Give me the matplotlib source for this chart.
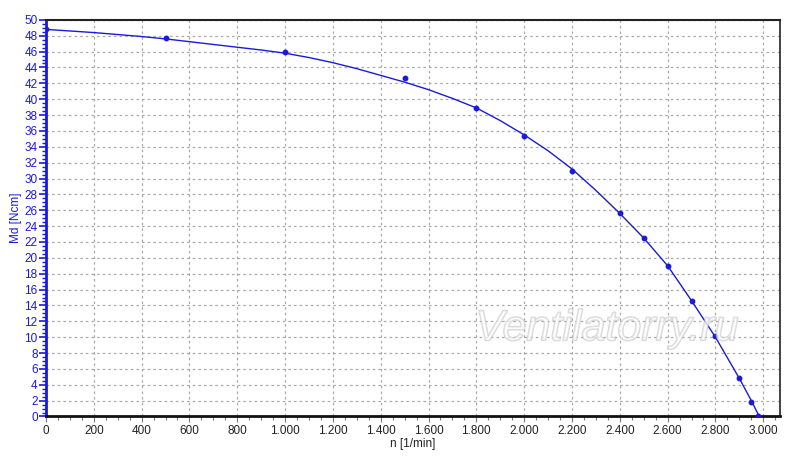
import matplotlib
matplotlib.use("Agg")
import matplotlib.pyplot as plt
import matplotlib.patheffects as pe
from matplotlib.ticker import MultipleLocator, FuncFormatter

plt.rcParams['font.family'] = ['Liberation Sans', 'DejaVu Sans']

# measured points
n_pts = [0, 500, 1000, 1500, 1800, 2000, 2200, 2400, 2500, 2600, 2700, 2800, 2900, 2950, 2980]
md_pts = [48.8, 47.7, 45.9, 42.7, 38.9, 35.4, 30.9, 25.6, 22.5, 19.0, 14.5, 10.1, 4.8, 1.8, 0.1]

# fitted curve
n_curve = [0, 100, 200, 300, 400, 500, 600, 700, 800, 900, 1000, 1100, 1200, 1300, 1400,
           1500, 1600, 1700, 1800, 1900, 2000, 2100, 2200, 2300, 2400, 2500, 2600, 2700,
           2800, 2900, 2950, 2980]
md_curve = [48.8, 48.6, 48.4, 48.15, 47.9, 47.6, 47.25, 46.9, 46.55, 46.2, 45.8, 45.25, 44.6,
            43.85, 43.0, 42.15, 41.2, 40.1, 38.9, 37.3, 35.5, 33.5, 31.2, 28.5, 25.6, 22.5,
            19.0, 14.6, 10.0, 4.8, 2.0, 0.2]

blue = '#1a1adc'

fig = plt.figure(figsize=(8.0, 4.62), dpi=100)
ax = fig.add_axes([0.0575, 0.0985, 0.9175, 0.8585])

ax.plot(n_curve, md_curve, color=blue, lw=1.0, zorder=3)
ax.plot(n_pts, md_pts, 'o', color=blue, ms=3.2, zorder=4)

# watermark (overlaid, faint)
ax.text(0.764, 0.22, 'Ventilatorry.ru', transform=ax.transAxes, fontsize=31, style='italic',
        family='Liberation Sans', color='white', alpha=0.35, ha='center', va='center', zorder=5,
        path_effects=[pe.withStroke(linewidth=1.2, foreground='#bdbdbd', alpha=0.6)])

ax.set_xlim(0, 3070)
ax.set_ylim(0, 50)

ax.xaxis.set_major_locator(MultipleLocator(200))
ax.xaxis.set_minor_locator(MultipleLocator(50))
ax.yaxis.set_major_locator(MultipleLocator(2))
ax.yaxis.set_minor_locator(MultipleLocator(0.5))
ax.xaxis.set_major_formatter(FuncFormatter(lambda v, p: f"{int(v):,}".replace(',', '.')))

ax.grid(True, which='major', color='#a8a8a8', linestyle=(0, (2.0, 2.5)), lw=0.9, zorder=1)

ax.tick_params(axis='y', which='major', direction='out', length=5, width=1.2, color=blue,
               labelcolor=blue, labelsize=8.5, pad=1)
ax.tick_params(axis='y', which='minor', direction='out', length=3, width=1.0, color=blue)
ax.tick_params(axis='x', which='major', direction='out', length=4, width=0.8, color='#777777',
               labelcolor='#222222', labelsize=8.5, pad=2)
ax.tick_params(axis='x', which='minor', direction='out', length=3, width=0.8, color='#777777')

ax.spines['left'].set_color(blue)
ax.spines['left'].set_linewidth(2.0)
ax.spines['bottom'].set_color('#111111')
ax.spines['bottom'].set_linewidth(2.0)
ax.spines['top'].set_color('#222222')
ax.spines['top'].set_linewidth(1.5)
ax.spines['right'].set_color('#222222')
ax.spines['right'].set_linewidth(1.2)

ax.set_ylabel('Md [Ncm]', color=blue, fontsize=8.5, labelpad=2)
ax.set_xlabel('n [1/min]', color='#222222', fontsize=8.5, labelpad=1)

fig.savefig('out.png', dpi=100)
